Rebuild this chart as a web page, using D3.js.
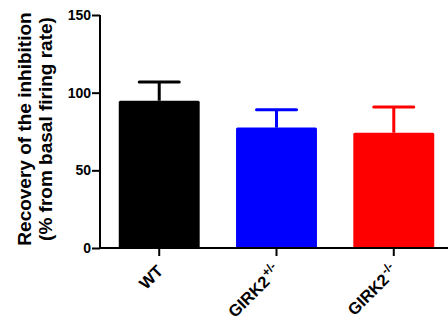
<!DOCTYPE html>
<html><head><meta charset="utf-8">
<script src="https://cdn.jsdelivr.net/npm/d3@7"></script>
<style>body{margin:0;background:#fff}svg{display:block}text{font-family:"Liberation Sans",Arial,sans-serif;font-weight:bold}</style>
</head><body>
<script>
const categories = ["WT", "GIRK2", "GIRK2"];
const superscripts = ["", "+/-", "-/-"];
const means = [94.8, 77.5, 74.2];
const errors = [12.1, 11.5, 16.6];
const colors = ["#000000", "#0000ff", "#ff0000"];
const yTicks = [0, 50, 100, 150];

const W = 448, H = 323;
const svg = d3.select("body").append("svg").attr("width", W).attr("height", H);
const y = d3.scaleLinear().domain([0, 150]).range([248, 15]);
const x = d3.scaleBand().domain(d3.range(categories.length)).range([100, 453]).paddingInner(0.31).paddingOuter(0.16);

// bars
svg.selectAll("rect.bar").data(means).join("rect")
  .attr("x", (d, i) => x(i)).attr("width", x.bandwidth())
  .attr("y", d => y(d)).attr("height", d => y(0) - y(d))
  .attr("rx", 1.5)
  .attr("fill", (d, i) => colors[i]);

// error bars
const eg = svg.selectAll("g.err").data(means).join("g");
eg.append("line")
  .attr("x1", (d, i) => x(i) + x.bandwidth() / 2).attr("x2", (d, i) => x(i) + x.bandwidth() / 2)
  .attr("y1", d => y(d)).attr("y2", (d, i) => y(d + errors[i]))
  .attr("stroke", (d, i) => colors[i]).attr("stroke-width", 3);
eg.append("line")
  .attr("x1", (d, i) => x(i) + x.bandwidth() / 2 - 20).attr("x2", (d, i) => x(i) + x.bandwidth() / 2 + 20)
  .attr("y1", (d, i) => y(d + errors[i])).attr("y2", (d, i) => y(d + errors[i]))
  .attr("stroke", (d, i) => colors[i]).attr("stroke-width", 3).attr("stroke-linecap", "round");

// y axis
const yAxis = d3.axisLeft(y).tickValues(yTicks).tickSize(8).tickPadding(1);
const gy = svg.append("g").attr("transform", "translate(100,0)").call(yAxis);
gy.select(".domain").attr("stroke", "#000").attr("stroke-width", 2).attr("d", "M0,249V15");
gy.selectAll(".tick line").attr("stroke-width", 2);
gy.selectAll(".tick text").attr("font-size", 14).attr("fill", "#000").style("font-weight", "bold")
  .style("font-family", "'Liberation Sans',Arial,sans-serif");

// x axis
svg.append("line").attr("x1", 99).attr("x2", W).attr("y1", 248).attr("y2", 248)
  .attr("stroke", "#000").attr("stroke-width", 2);
svg.selectAll("line.xt").data(categories).join("line")
  .attr("x1", (d, i) => x(i) + x.bandwidth() / 2).attr("x2", (d, i) => x(i) + x.bandwidth() / 2)
  .attr("y1", 248).attr("y2", 256).attr("stroke", "#000").attr("stroke-width", 2);

const xl = svg.selectAll("text.xl").data(categories).join("text")
  .attr("transform", (d, i) => `translate(${x(i) + x.bandwidth() / 2 + 5},${272}) rotate(-45)`)
  .attr("text-anchor", "end").attr("font-size", 16.5).attr("fill", "#000");
xl.append("tspan").text(d => d);
xl.append("tspan").attr("font-size", 12).attr("dx", 1).attr("dy", -7).text((d, i) => superscripts[i]);

// y title
const yt = svg.append("text").attr("transform", "translate(31,129) rotate(-90)")
  .attr("text-anchor", "middle").attr("font-size", 19).attr("fill", "#000");
yt.append("tspan").attr("x", 0).attr("dy", 0).text("Recovery of the inhibition");
yt.append("tspan").attr("x", 0).attr("dy", 21).text("(% from basal firing rate)");
</script>
</body></html>
